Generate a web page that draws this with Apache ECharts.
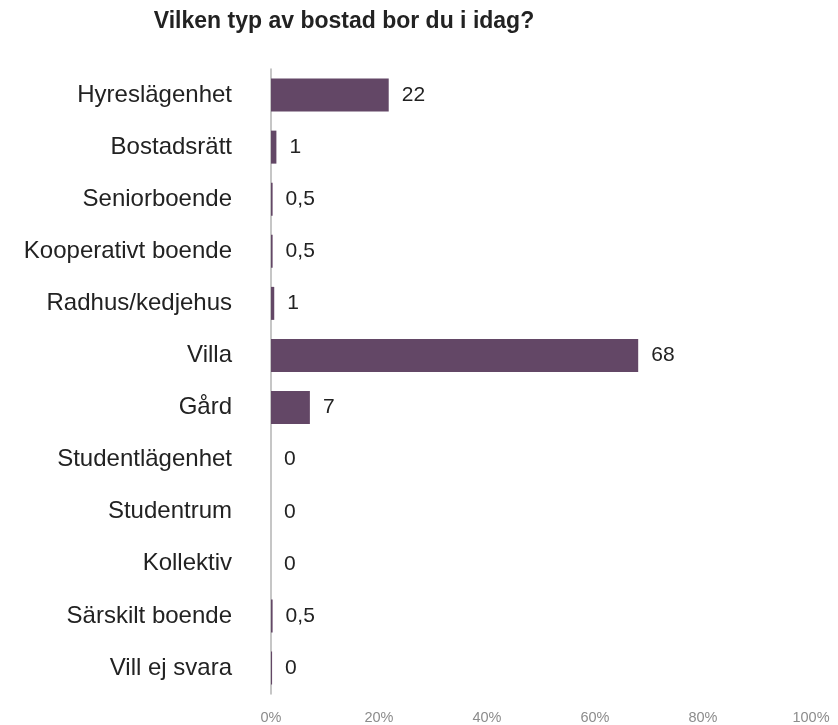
<!DOCTYPE html>
<html>
<head>
<meta charset="utf-8">
<script src="https://cdn.jsdelivr.net/npm/echarts@6/dist/echarts.min.js"></script>
<style>
html,body{margin:0;padding:0;background:#fff;}
#chart{width:838px;height:725px;}
</style>
</head>
<body>
<div id="chart"></div>
<script>
const titleText = 'Vilken typ av bostad bor du i idag?';
const categories = ['Hyreslägenhet','Bostadsrätt','Seniorboende','Kooperativt boende','Radhus/kedjehus','Villa','Gård','Studentlägenhet','Studentrum','Kollektiv','Särskilt boende','Vill ej svara'];
// bar lengths in percent
const values = [21.8, 1.0, 0.3, 0.3, 0.6, 68, 7.2, 0, 0, 0, 0.3, 0.2];
// value labels as printed on the chart
const valueLabels = ['22','1','0,5','0,5','1','68','7','0','0','0','0,5','0'];
const xTicks = [0, 20, 40, 60, 80, 100];

const chart = echarts.init(document.getElementById('chart'));
chart.setOption({
  animation: false,
  title: {
    text: titleText,
    left: 339, top: 5, textAlign: 'center',
    textStyle: {fontFamily: 'Liberation Sans', fontSize: 23, fontWeight: 'bold', color: '#222'}
  },
  grid: {left: 271, right: 27, top: 69, bottom: 29, containLabel: false},
  xAxis: {
    type: 'value', min: xTicks[0], max: xTicks[xTicks.length-1], interval: 20,
    axisLine: {show: false}, axisTick: {show: false}, splitLine: {show: false},
    axisLabel: {formatter: '{value}%', color: '#8c8c8c', fontFamily: 'Liberation Sans', fontSize: 14.5, margin: 16}
  },
  yAxis: {
    type: 'category', data: categories, inverse: true,
    axisLine: {show: true, lineStyle: {color: '#b3b3b3', width: 1.5}},
    axisTick: {show: false},
    axisLabel: {color: '#222', fontFamily: 'Liberation Sans', fontSize: 24, margin: 39}
  },
  series: [{
    type: 'bar', data: values, barWidth: 33,
    itemStyle: {color: '#634766'},
    label: {
      show: true, position: 'right', distance: 13,
      color: '#222', fontFamily: 'Liberation Sans', fontSize: 21,
      formatter: p => valueLabels[p.dataIndex]
    }
  }]
});
</script>
</body>
</html>
